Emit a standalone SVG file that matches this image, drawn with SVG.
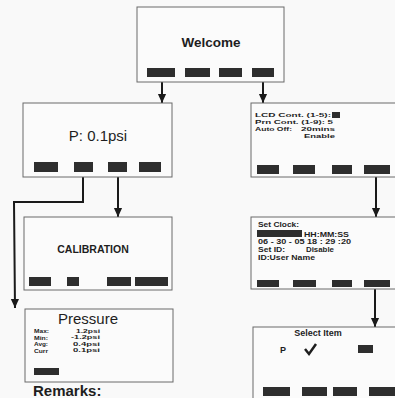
<svg xmlns="http://www.w3.org/2000/svg" width="395" height="398" viewBox="0 0 395 398">
<style>
.box{fill:#fbfbfb;stroke:#6a6a6a;stroke-width:1}
.btn{fill:#2e2e2e}
.con{fill:none;stroke:#1a1a1a;stroke-width:2}
.t{font-family:"Liberation Sans",Arial,sans-serif;fill:#1e1e1e}
.b{font-weight:bold}
.s{font-size:6.2px;font-weight:bold}
.c{font-size:7px;font-weight:bold}
.p{font-size:5.6px;font-weight:bold}
</style>
<defs>
<marker id="ad" markerUnits="userSpaceOnUse" markerWidth="10" markerHeight="12" refX="11" refY="5" orient="auto" viewBox="0 0 12 10">
<path d="M0,0 L11,5 L0,10 Z" fill="#1a1a1a"/>
</marker>
</defs>
<rect width="395" height="398" fill="#f9f9f9"/>

<g id="connectors">
<path class="con" d="M162,82 V103" marker-end="url(#ad)"/>
<path class="con" d="M263,82 V103" marker-end="url(#ad)"/>
<path class="con" d="M118,177 V217" marker-end="url(#ad)"/>
<path class="con" d="M83,172 V202 H14 L15,308" marker-end="url(#ad)"/>
<path class="con" d="M376,177 V217" marker-end="url(#ad)"/>
<path class="con" d="M375,288 V327" marker-end="url(#ad)"/>
</g>

<g id="welcome">
<rect class="box" x="137" y="7" width="147" height="75"/>
<text class="t" x="211" y="47" font-size="13.5" text-anchor="middle" font-weight="bold">Welcome</text>
<rect class="btn" x="147" y="68" width="28" height="9"/>
<rect class="btn" x="185" y="68" width="25" height="9"/>
<rect class="btn" x="219" y="68" width="23" height="9"/>
<rect class="btn" x="252" y="68" width="22" height="9"/>
</g>

<g id="pressure-main">
<rect class="box" x="23" y="103" width="149" height="74"/>
<text class="t" x="98" y="141" font-size="15" text-anchor="middle">P: 0.1psi</text>
<rect class="btn" x="34" y="162" width="24" height="10"/>
<rect class="btn" x="74" y="162" width="19" height="10"/>
<rect class="btn" x="108" y="162" width="19" height="10"/>
<rect class="btn" x="139" y="162" width="22" height="10"/>
</g>

<g id="settings">
<rect class="box" x="251" y="103" width="150" height="74"/>
<text class="t s" x="255" y="117" textLength="76" lengthAdjust="spacingAndGlyphs">LCD Cont. (1-5):</text>
<rect class="btn" x="332" y="112" width="8" height="6"/>
<text class="t s" x="255" y="124" textLength="78" lengthAdjust="spacingAndGlyphs">Prn Cont. (1-9):  5</text>
<text class="t s" x="255" y="131" textLength="37" lengthAdjust="spacingAndGlyphs">Auto Off:</text>
<text class="t s" x="301" y="131" textLength="34" lengthAdjust="spacingAndGlyphs">20mins</text>
<text class="t s" x="304" y="138" textLength="31" lengthAdjust="spacingAndGlyphs">Enable</text>
<rect class="btn" x="257" y="165" width="22" height="9"/>
<rect class="btn" x="293" y="165" width="22" height="9"/>
<rect class="btn" x="332" y="165" width="20" height="9"/>
<rect class="btn" x="364" y="165" width="26" height="9"/>
</g>

<g id="calibration">
<rect class="box" x="24" y="217" width="148" height="73"/>
<text class="t b" x="93" y="253" font-size="10.5" text-anchor="middle">CALIBRATION</text>
<rect class="btn" x="29" y="277" width="22" height="9"/>
<rect class="btn" x="67" y="277" width="12" height="9"/>
<rect class="btn" x="107" y="277" width="24" height="9"/>
<rect class="btn" x="135" y="277" width="33" height="9"/>
</g>

<g id="clock">
<rect class="box" x="251" y="217" width="150" height="72"/>
<text class="t c" x="258" y="227" textLength="41" lengthAdjust="spacingAndGlyphs">Set Clock:</text>
<rect class="btn" x="257" y="230" width="45" height="7"/>
<text class="t c" x="304" y="236.5" textLength="45" lengthAdjust="spacingAndGlyphs">HH:MM:SS</text>
<text class="t c" x="258" y="244" textLength="93" lengthAdjust="spacingAndGlyphs">06 - 30 - 05  18 : 29 :20</text>
<text class="t c" x="258" y="251.5" textLength="27" lengthAdjust="spacingAndGlyphs">Set ID:</text>
<text class="t c" x="306" y="251.5" textLength="28" lengthAdjust="spacingAndGlyphs">Disable</text>
<text class="t c" x="258" y="260" textLength="57" lengthAdjust="spacingAndGlyphs">ID:User Name</text>
<rect class="btn" x="257" y="280" width="22" height="7"/>
<rect class="btn" x="293" y="280" width="23" height="7"/>
<rect class="btn" x="332" y="280" width="20" height="7"/>
<rect class="btn" x="364" y="280" width="26" height="7"/>
</g>

<g id="pressure-stats">
<rect class="box" x="25" y="309" width="148" height="73"/>
<text class="t" x="88" y="324" font-size="15" text-anchor="middle">Pressure</text>
<text class="t p" x="34" y="333" textLength="15" lengthAdjust="spacingAndGlyphs">Max:</text>
<text class="t p" x="34" y="339.5" textLength="14" lengthAdjust="spacingAndGlyphs">Min:</text>
<text class="t p" x="34" y="346" textLength="14" lengthAdjust="spacingAndGlyphs">Avg:</text>
<text class="t p" x="34" y="352.5" textLength="14" lengthAdjust="spacingAndGlyphs">Curr</text>
<text class="t p" x="76" y="332.5" textLength="24" lengthAdjust="spacingAndGlyphs">1.2psi</text>
<text class="t p" x="71" y="339" textLength="29" lengthAdjust="spacingAndGlyphs">-1.2psi</text>
<text class="t p" x="73" y="345.5" textLength="27" lengthAdjust="spacingAndGlyphs">0.4psi</text>
<text class="t p" x="73" y="352" textLength="27" lengthAdjust="spacingAndGlyphs">0.1psi</text>
<rect class="btn" x="34" y="368" width="25" height="7"/>
</g>

<g id="select">
<rect class="box" x="253" y="327" width="150" height="80"/>
<text class="t b" x="318" y="336" font-size="9" text-anchor="middle">Select Item</text>
<text class="t b" x="283" y="353" font-size="9" text-anchor="middle">P</text>
<path d="M305,349 L309,354 L316,344" fill="none" stroke="#1e1e1e" stroke-width="2.5"/>
<rect class="btn" x="358" y="345" width="15" height="8"/>
<rect class="btn" x="263" y="387" width="27" height="9"/>
<rect class="btn" x="302" y="387" width="25" height="9"/>
<rect class="btn" x="333" y="387" width="24" height="9"/>
<rect class="btn" x="369" y="387" width="26" height="9"/>
</g>

<text class="t b" x="33" y="396" font-size="15">Remarks:</text>
</svg>
